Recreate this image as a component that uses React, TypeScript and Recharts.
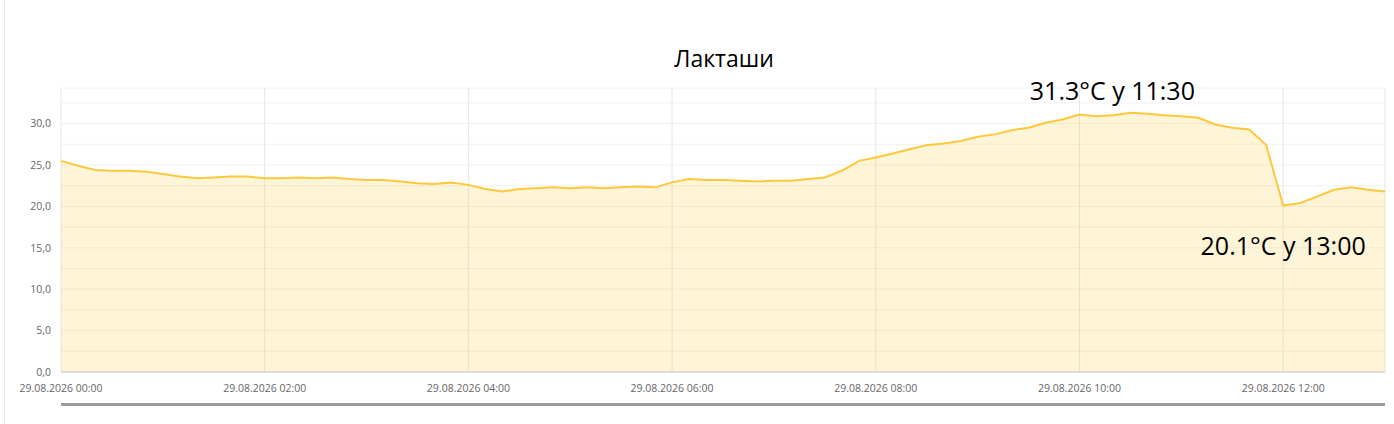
import {
  Area,
  AreaChart,
  CartesianGrid,
  ReferenceDot,
  XAxis,
  YAxis,
} from "recharts";

// readings every 10 minutes, 29.08.2026 00:00 .. 13:00 (axis time)
const temps = [
  25.5, 24.9, 24.4, 24.3, 24.3, 24.2, 23.9, 23.6, 23.4, 23.5, 23.6, 23.6,
  23.4, 23.4, 23.5, 23.4, 23.5, 23.3, 23.2, 23.2, 23.0, 22.8, 22.7, 22.9,
  22.6, 22.1, 21.8, 22.1, 22.2, 22.3, 22.2, 22.3, 22.2, 22.3, 22.4, 22.3,
  22.9, 23.3, 23.2, 23.2, 23.1, 23.0, 23.1, 23.1, 23.3, 23.5, 24.3, 25.5,
  25.9, 26.4, 26.9, 27.4, 27.6, 27.9, 28.4, 28.7, 29.2, 29.5, 30.1, 30.5,
  31.1, 30.9, 31.0, 31.3, 31.2, 31.0, 30.9, 30.7, 29.9, 29.5, 29.3, 27.4,
  20.1, 20.4, 21.2, 22.0, 22.3, 22.0, 21.8,
];

const xTicks = [0, 2, 4, 6, 8, 10, 12];
const yTicks = [0, 2.5, 5, 7.5, 10, 12.5, 15, 17.5, 20, 22.5, 25, 27.5, 30, 32.5];
const dateLabel = "29.08.2026";
const title = "Лакташи";

const maxNote = { t: 10.5, value: 31.3, text: "31.3°C у 11:30" };
const minNote = { t: 12, value: 20.1, text: "20.1°C у 13:00" };

const data = temps.map((v, i) => ({ t: i / 6, temp: v }));

const FONT = "'Open Sans', 'Noto Sans', sans-serif";

function pad(n: number) {
  return n < 10 ? `0${n}` : `${n}`;
}

function noteLabel(text: string, dx: number, dy: number) {
  return (props: any) => {
    const vb = props.viewBox || {};
    const cx = (vb.x ?? 0) + (vb.width ?? 0) / 2;
    const cy = (vb.y ?? 0) + (vb.height ?? 0) / 2;
    return (
      <text
        x={cx + dx}
        y={cy + dy}
        textAnchor="middle"
        fill="#000"
        fontSize={25}
        fontFamily={FONT}
      >
        {text}
      </text>
    );
  };
}

export default function App() {
  return (
    <div
      style={{
        position: "absolute",
        left: 0,
        top: 0,
        width: 1394,
        height: 424,
        background: "#fff",
        fontFamily: FONT,
      }}
    >
      <div
        style={{
          position: "absolute",
          left: 4,
          top: 0,
          width: 1,
          height: 424,
          background: "#ebebeb",
        }}
      />
      <div
        style={{
          position: "absolute",
          left: 0,
          width: 1448,
          top: 43,
          textAlign: "center",
          fontSize: 23,
          color: "#000",
          lineHeight: "30px",
        }}
      >
        {title}
      </div>
      <AreaChart
        width={1394}
        height={424}
        data={data}
        margin={{ top: 88, right: 9, left: 6, bottom: 22 }}
      >
        <CartesianGrid vertical={false} stroke="#f0f0f0" />
        <CartesianGrid horizontal={false} stroke="#e6e6e6" />
        <XAxis
          type="number"
          dataKey="t"
          domain={[0, 13]}
          ticks={xTicks}
          interval={0}
          height={30}
          tickLine={false}
          axisLine={{ stroke: "#c8c8c8" }}
          tickMargin={7}
          tick={{ fill: "#666", fontSize: 10.5, fontFamily: FONT }}
          tickFormatter={(h: number) => `${dateLabel} ${pad(h)}:00`}
        />
        <YAxis
          type="number"
          domain={[0, 34.3]}
          ticks={yTicks}
          interval={0}
          width={55}
          axisLine={false}
          tickLine={false}
          tickMargin={4}
          tick={{ fill: "#666", fontSize: 10.5, fontFamily: FONT }}
          tickFormatter={(v: number) =>
            v % 5 === 0 ? v.toFixed(1).replace(".", ",") : ""
          }
        />
        <Area
          type="linear"
          dataKey="temp"
          stroke="#fcc93d"
          strokeWidth={2}
          fill="#fcc93d"
          fillOpacity={0.2}
          dot={false}
          activeDot={false}
          isAnimationActive={false}
        />
        <ReferenceDot
          x={maxNote.t}
          y={maxNote.value}
          r={0}
          fill="none"
          stroke="none"
          label={noteLabel(maxNote.text, -18, -13)}
        />
        <ReferenceDot
          x={minNote.t}
          y={minNote.value}
          r={0}
          fill="none"
          stroke="none"
          label={noteLabel(minNote.text, 0, 49.5)}
        />
      </AreaChart>
      <div
        style={{
          position: "absolute",
          left: 61,
          top: 403,
          width: 1324,
          height: 3,
          background: "#9b9b9b",
        }}
      />
    </div>
  );
}
